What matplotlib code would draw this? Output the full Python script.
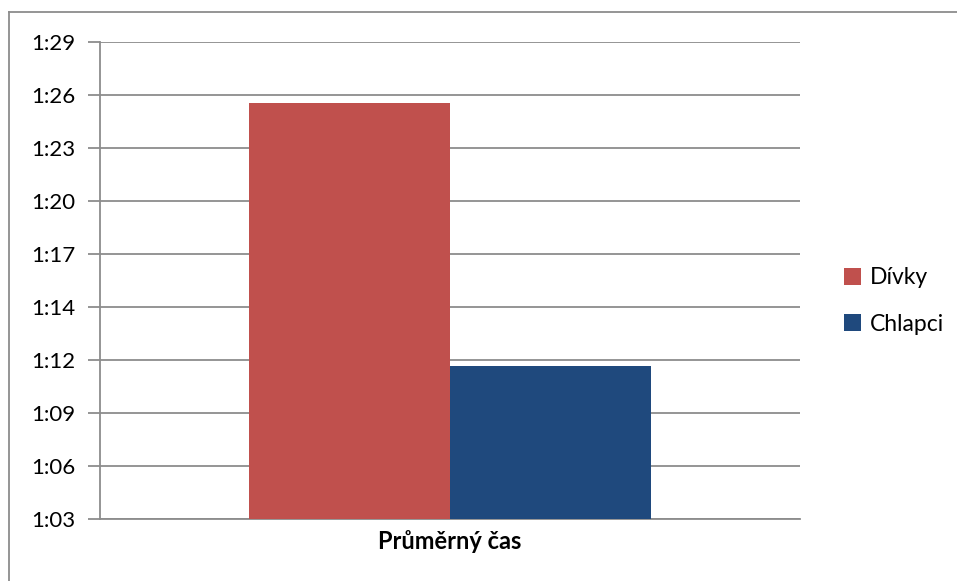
import matplotlib
matplotlib.use("Agg")
import matplotlib.pyplot as plt
from matplotlib.lines import Line2D

# Data (times in seconds)
category = ["Průměrný čas"]
series_names = ["Dívky", "Chlapci"]
values = [85.7, 71.35]
colors = ["#C0504D", "#1F497D"]
tick_labels = ["1:03", "1:06", "1:09", "1:12", "1:14", "1:17", "1:20", "1:23", "1:26", "1:29"]
y_min, y_max = 63.0, 89.0

W, H = 957, 581
fig = plt.figure(figsize=(W / 100, H / 100), dpi=100)
plt.rcParams['font.family'] = ['Lato', 'DejaVu Sans']

ax = fig.add_axes([100 / W, 1 - 519 / H, 700 / W, 477 / H])

bar_w = 0.287
offsets = [-bar_w / 2, bar_w / 2]
for name, v, c, off in zip(series_names, values, colors, offsets):
    ax.bar(0 + off, v - y_min, bottom=y_min, width=bar_w, color=c, label=name, zorder=3)

ax.set_xlim(-0.5, 0.5)
ax.set_ylim(y_min, y_max)
step = (y_max - y_min) / (len(tick_labels) - 1)
ticks = [y_min + i * step for i in range(len(tick_labels))]
ax.set_yticks(ticks)
ax.set_yticklabels(tick_labels, fontsize=16)
ax.set_xticks([0])
ax.set_xticklabels(category, fontsize=17, fontweight='bold')
ax.grid(axis='y', color='#8c8c8c', linewidth=1.3, zorder=0)
for s in ['top', 'right']:
    ax.spines[s].set_visible(False)
ax.spines['left'].set_color('#8c8c8c')
ax.spines['bottom'].set_color('#8c8c8c')
ax.spines['left'].set_linewidth(1.3)
ax.spines['bottom'].set_linewidth(1.3)
ax.tick_params(axis='y', length=9, color='#8c8c8c', width=1.3, pad=9)
ax.tick_params(axis='x', length=0, pad=8)

leg = ax.legend(loc='center left', bbox_to_anchor=(823 / W, 1 - 301 / H),
                bbox_transform=fig.transFigure, frameon=False, fontsize=16.5,
                handlelength=0.75, handleheight=0.75, handletextpad=0.4, labelspacing=1.1)

# outer chart frame (top and left only visible)
fig.add_artist(Line2D([9 / W, 9 / W], [0, 1 - 12 / H], transform=fig.transFigure, color='#8c8c8c', lw=1.3))
fig.add_artist(Line2D([9 / W, 1], [1 - 12 / H, 1 - 12 / H], transform=fig.transFigure, color='#8c8c8c', lw=1.3))

fig.savefig("out.png", dpi=100)
